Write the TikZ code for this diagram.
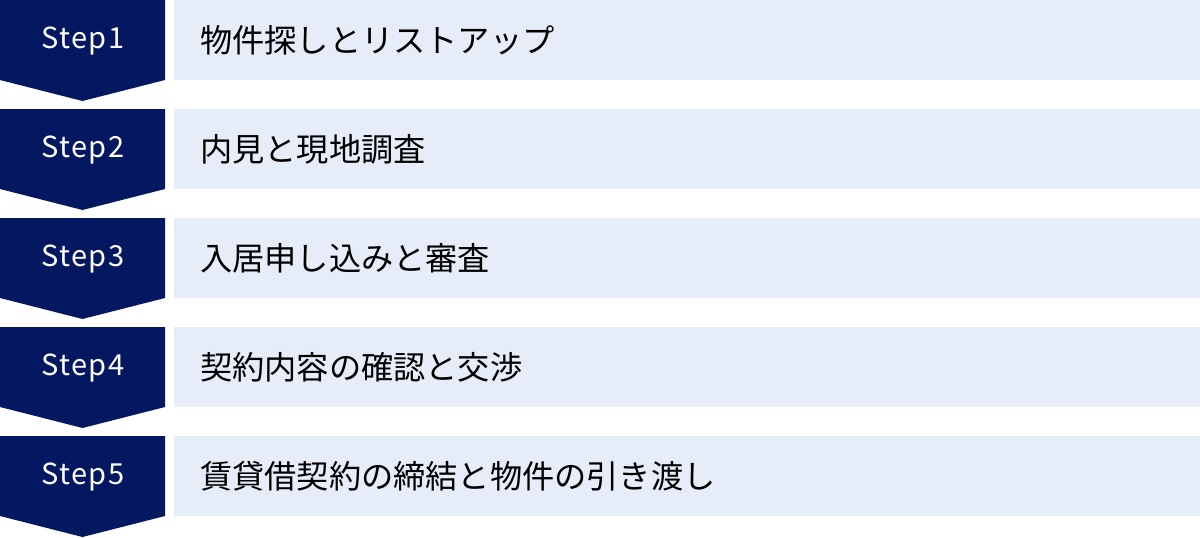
\documentclass[tikz,border=0pt]{standalone}
\usepackage{fontspec}
\setmainfont{Noto Sans CJK JP}
\newfontfamily\steplatin[LetterSpace=5]{Noto Sans CJK JP}
\usepackage{xcolor}
\usepackage{tikz}
\usetikzlibrary{calc}

\definecolor{stepnavy}{HTML}{041761}
\definecolor{steplight}{HTML}{E6ECF8}

\tikzset{
	steplabel/.style={text=white, font=\steplatin\fontsize{29}{32}\selectfont, anchor=center, inner sep=0pt},
	stepitem/.style={text=black, font=\fontsize{32.2}{35}\selectfont, anchor=west, inner sep=0pt}
}

\begin{document}
\begin{tikzpicture}[x=1pt, y=-1pt]
			\useasboundingbox (0,0) rectangle (1200,538);
			\foreach \n/\txt in {1/物件探しとリストアップ, 2/内見と現地調査, 3/入居申し込みと審査, 4/契約内容の確認と交渉, 5/賃貸借契約の締結と物件の引き渡し}
			{
				\pgfmathsetmacro{\t}{(\n-1)*109}
				% chevron and bar
				\fill[stepnavy] (0,\t) -- (165,\t) -- (165,\t+80) -- (82.5,\t+101) -- (0,\t+80) -- cycle;
				\fill[steplight] (174,\t) rectangle (1200,\t+80);
				\node[steplabel] (step\n) at (83,\t+41) {Step\n};
				\node[stepitem] (item\n) at (200,\t+40) {\txt};
			}
		\end{tikzpicture}
\end{document}
